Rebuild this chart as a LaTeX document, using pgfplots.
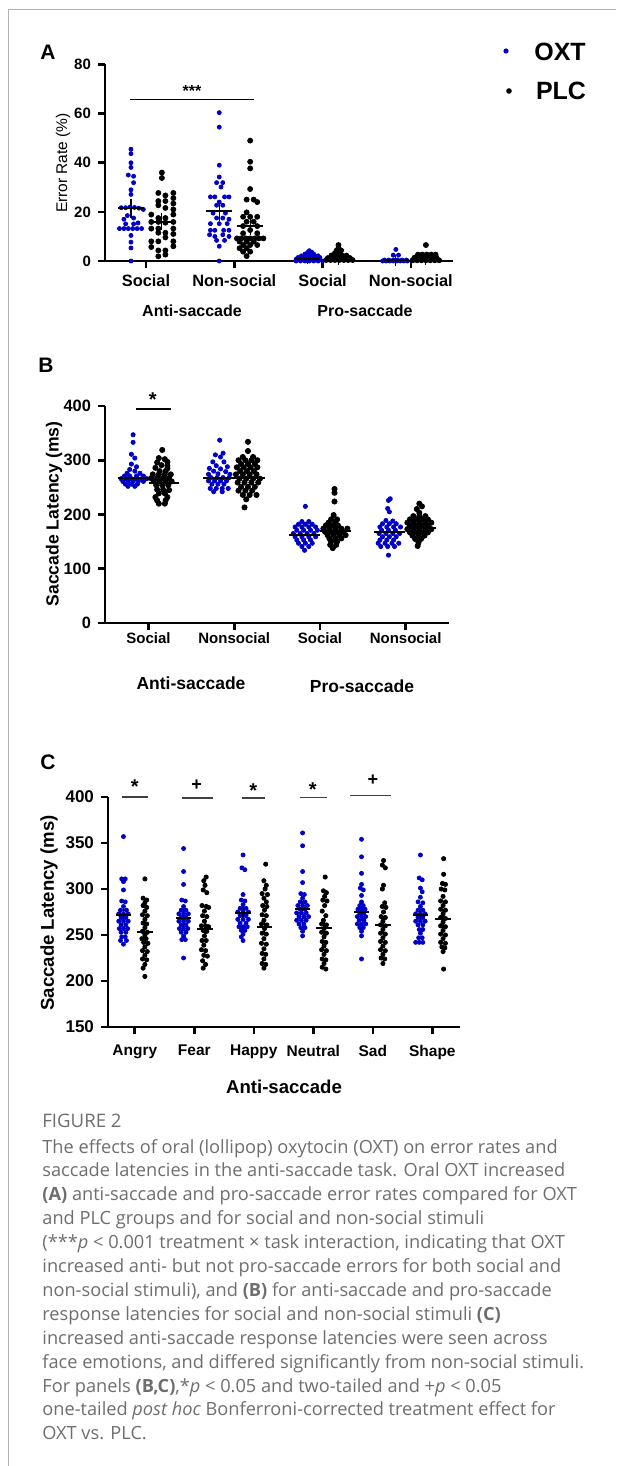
\documentclass[border=0pt]{standalone}
\usepackage{pgfplots}
\pgfplotsset{compat=1.18}
\usepackage{fontspec}
\setmainfont{Liberation Sans}
\newfontfamily\capfont{Open Sans}
\definecolor{oxt}{RGB}{0,0,200}
\definecolor{capgray}{RGB}{110,110,110}
\newcommand{\fs}[1]{\fontsize{#1pt}{#1pt}\selectfont}

\pgfplotsset{
  gp/.style={
    scale only axis, anchor=south west, axis lines=left,
    axis line style={line width=1.3pt,-},
    tick style={line width=1.3pt, black},
    tick align=outside, major tick length=3.5pt,
    clip=false,
    /pgf/number format/assume math mode=true,
  },
  oxtdots/.style={only marks, mark=*, color=oxt, mark options={draw=none, fill=oxt}},
  plcdots/.style={only marks, mark=*, color=black, mark options={draw=none, fill=black}},
  means/.style={black, only marks, mark=-, mark options={line width=1pt}},
}

\begin{document}
\begin{tikzpicture}
\begin{scope}[x=0.5pt,y=-0.5pt]
  \path[use as bounding box] (0,0) rectangle (616,1466);
  \draw[black!30, line width=0.5pt] (8,10) -- (616,10);
  \draw[black!30, line width=0.5pt] (8,10) -- (8,1466);
  % panel letters
  \node[font=\bfseries\fs{10.5}] at (48,52) {A};
  \node[font=\bfseries\fs{10.5}] at (46,365) {B};
  \node[font=\bfseries\fs{10.5}] at (48,762) {C};
  % legend
  \fill[oxt] (506,51) circle (2.6);
  \node[font=\bfseries\fs{12.5}] at (560,52) {OXT};
  \fill[black] (509,91) circle (2.8);
  \node[font=\bfseries\fs{12.5}] at (561,91) {PLC};
  % axis titles
  \node[rotate=90, font=\fs{7.75}] at (63,163) {Error Rate (\%)};
  \node[rotate=90, font=\bfseries\fs{8.8}] at (54,514) {Saccade Latency (ms)};
  \node[rotate=90, font=\bfseries\fs{9.3}] at (49,913) {Saccade Latency (ms)};
  \node[font=\bfseries\fs{8}] at (192,311) {Anti-saccade};
  \node[font=\bfseries\fs{8}] at (365,311) {Pro-saccade};
  \node[font=\bfseries\fs{8.75}] at (191,683) {Anti-saccade};
  \node[font=\bfseries\fs{8.75}] at (362,686) {Pro-saccade};
  \node[font=\bfseries\fs{9.3}] at (284,1087) {Anti-saccade};
  % caption
  \begin{scope}[every node/.style={anchor=base west, inner sep=0pt, text=capgray, font=\capfont\fs{9.1}}]
  \node[font=\capfont\fs{9.3}] at (42,1127.5) {FIGURE 2};
  \node at (42,1153) {The effects of oral (lollipop) oxytocin (OXT) on error rates and};
  \node at (42,1176.9) {saccade latencies in the anti-saccade task. Oral OXT increased};
  \node at (42,1200.8) {\textbf{(A)} anti-saccade and pro-saccade error rates compared for OXT};
  \node at (42,1224.7) {and PLC groups and for social and non-social stimuli};
  \node at (42,1248.6) {(***\textit{p} < 0.001 treatment × task interaction, indicating that OXT};
  \node at (42,1272.5) {increased anti- but not pro-saccade errors for both social and};
  \node at (42,1296.4) {non-social stimuli), and \textbf{(B)} for anti-saccade and pro-saccade};
  \node at (42,1320.3) {response latencies for social and non-social stimuli \textbf{(C)}};
  \node at (42,1344.2) {increased anti-saccade response latencies were seen across};
  \node at (42,1368.1) {face emotions, and differed significantly from non-social stimuli.};
  \node at (42,1392) {For panels \textbf{(B,C)},*\textit{p} < 0.05 and two-tailed and +\textit{p} < 0.05};
  \node at (42,1415.9) {one-tailed \textit{post hoc} Bonferroni-corrected treatment effect for};
  \node at (42,1439.8) {OXT vs. PLC.};
  \end{scope}
\end{scope}

% ---------------- panel A
\begin{axis}[gp, at={(52.5pt,-130.5pt)}, width=174pt, height=98.25pt,
  xmin=-0.464, xmax=3.477, ymin=0, ymax=80,
  xtick={0,1,2,3}, xticklabels={Social,Non-social,Social,Non-social},
  ytick={0,20,40,60,80},
  xticklabel style={font=\bfseries\fs{8.2}},
  yticklabel style={font=\bfseries\fs{7.5}},
]
\addplot[oxtdots, mark size=1.0pt] coordinates {
 (-0.17,45.5) (-0.17,43.7) (-0.17,40.0) (-0.17,38.1) (-0.20,35.0) (-0.14,34.5) (-0.14,31.9) (-0.17,29.0) (-0.17,27.1)
 (-0.28,21.7) (-0.23,21.7) (-0.18,22.0) (-0.13,21.8) (-0.08,21.5) (-0.03,21.0) (-0.21,18.5) (-0.25,17.0) (-0.14,17.5)
 (-0.23,15.1) (-0.14,15.1) (-0.09,15.5) (-0.30,13.2) (-0.25,13.2) (-0.20,13.2) (-0.15,13.2) (-0.10,13.2) (-0.05,13.2)
 (-0.17,10.4) (-0.17,7.7) (-0.17,5.3) (-0.17,0)
 (0.83,60.4) (0.83,54.5) (0.83,39.0) (0.83,34.2) (0.80,31.9) (0.87,31.9) (0.85,30.1) (0.73,26.1) (0.78,26.1) (0.89,26.1)
 (0.94,26.1) (0.83,24.0) (0.80,22.7) (0.87,22.7) (0.76,19.5) (0.90,19.5) (0.80,17.5) (0.87,17.5) (0.94,17.0) (0.73,15.2)
 (0.83,15.2) (0.92,15.2) (0.73,12.5) (0.78,12.5) (0.88,12.5) (0.94,12.5) (0.72,10.7) (0.78,10.0) (0.87,10.7) (0.94,10.0)
 (0.80,8.4) (0.89,8.4) (0.83,6.0) (0.83,0)
 (1.85,4.2) (1.83,3.5) (1.88,3.5) (1.80,2.8) (1.85,2.8) (1.90,2.8) (1.76,2.1) (1.81,2.1) (1.86,2.1) (1.91,2.1) (1.95,2.1)
 (1.72,1.4) (1.77,1.4) (1.82,1.4) (1.87,1.4) (1.92,1.4) (1.97,1.4) (1.70,0.7) (1.74,0.7) (1.78,0.7) (1.83,0.7) (1.88,0.7)
 (1.93,0.7) (1.97,0.7) (1.70,0) (1.75,0) (1.80,0) (1.85,0) (1.90,0) (1.95,0) (2.00,0)
 (2.83,4.7) (2.80,2.4) (2.86,2.4) (2.68,0) (2.72,0) (2.76,0) (2.80,0) (2.84,0) (2.88,0) (2.92,0) (2.96,0)
 (2.70,0.4) (2.75,0.4) (2.80,0.4) (2.85,0.4) (2.90,0.4) (2.95,0.4)
};
\addplot[plcdots, mark size=1.25pt] coordinates {
 (0.18,36.0) (0.18,33.8) (0.14,27.7) (0.31,27.7) (0.22,26.7) (0.31,25.6) (0.14,24.4) (0.22,24.4) (0.31,23.4) (0.14,22.7)
 (0.22,21.6) (0.31,21.0) (0.06,18.9) (0.31,18.9) (0.14,17.5) (0.22,17.5) (0.22,15.6) (0.06,15.9) (0.14,15.9) (0.31,15.9)
 (0.06,13.2) (0.14,13.2) (0.31,13.2) (0.14,11.5) (0.22,11.5) (0.31,11.0) (0.22,9.6) (0.06,8.0) (0.14,8.0) (0.31,8.0)
 (0.31,6.0) (0.06,5.7) (0.14,4.3) (0.22,4.3) (0.22,2.6) (0.14,1.9)
 (1.18,49.0) (1.18,40.4) (1.18,37.7) (1.18,29.3) (1.14,25.0) (1.22,25.0) (1.26,24.0) (1.14,19.8) (1.10,18.0) (1.18,18.0)
 (1.26,18.0) (1.14,16.0) (1.22,16.0) (1.10,14.2) (1.26,14.2) (1.18,12.6) (1.10,11.3) (1.26,11.3) (1.03,9.2) (1.08,9.2)
 (1.13,9.2) (1.18,9.2) (1.23,9.2) (1.28,9.2) (1.33,9.2) (1.06,7.9) (1.14,7.9) (1.22,7.9) (1.10,6.5) (1.18,6.5) (1.26,6.5)
 (1.06,5.2) (1.14,5.2) (1.10,3.8) (1.18,3.8) (1.14,2.0)
 (2.18,6.5) (2.18,5.2) (2.16,4.3) (2.21,4.3) (2.14,3.2) (2.20,3.2) (2.10,2.2) (2.16,2.2) (2.22,2.2) (2.27,2.2)
 (2.06,1.2) (2.11,1.2) (2.16,1.2) (2.21,1.2) (2.26,1.2) (2.31,1.2) (2.04,0.4) (2.09,0.4) (2.14,0.4) (2.19,0.4)
 (2.24,0.4) (2.29,0.4) (2.34,0.4)
 (3.17,6.5) (3.08,2.6) (3.13,2.6) (3.18,2.6) (3.23,2.6) (3.28,2.6) (3.04,1.3) (3.09,1.3) (3.14,1.3) (3.19,1.3)
 (3.24,1.3) (3.29,1.3) (3.02,0.3) (3.07,0.3) (3.12,0.3) (3.17,0.3) (3.22,0.3) (3.27,0.3) (3.32,0.3)
};
\addplot[means, mark size=6.4pt, error bars/.cd, y dir=both, y explicit,
  error mark options={mark size=2.5pt, line width=0.6pt}, error bar style={line width=0.6pt}]
 coordinates {(-0.17,21.4) +- (0,2.0) (0.18,16.0) +- (0,1.5) (0.83,20.4) +- (0,2.2) (1.18,14.4) +- (0,1.8)
  (1.83,1.0) +- (0,0.3) (2.18,0.9) +- (0,0.3) (2.83,0.4) +- (0,0.2) (3.17,0.9) +- (0,0.3)};
\draw[line width=0.5pt] (axis cs:-0.18,65.7) -- (axis cs:1.22,65.7);
\node[anchor=base, font=\bfseries\fs{8}, inner sep=0pt] at (axis cs:0.52,67.0) {***};
\end{axis}

% ---------------- panel B
\begin{axis}[gp, at={(52.5pt,-311.5pt)}, width=172pt, height=108.5pt,
  xmin=-0.508, xmax=3.506, ymin=0, ymax=400,
  xtick={0,1,2,3}, xticklabels={Social,Nonsocial,Social,Nonsocial},
  ytick={0,100,200,300,400},
  xticklabel style={font=\bfseries\fs{7.5}, yshift=2pt},
  yticklabel style={font=\bfseries\fs{8.2}},
]
\addplot[oxtdots, mark size=1.05pt] coordinates {
 (-0.18,347) (-0.18,333) (-0.20,311) (-0.16,304) (-0.20,293) (-0.14,288) (-0.22,283) (-0.16,280) (-0.25,276) (-0.10,276)
 (-0.28,271) (-0.22,271) (-0.14,271) (-0.06,271) (-0.32,266) (-0.26,266) (-0.20,266) (-0.14,266) (-0.08,266) (-0.02,266)
 (-0.30,261) (-0.24,261) (-0.18,261) (-0.12,261) (-0.06,261) (-0.27,256) (-0.20,256) (-0.13,256) (-0.24,252) (-0.16,252)
 (0.83,337) (0.87,313) (0.78,310) (0.84,306) (0.75,297) (0.88,297) (0.79,290) (0.92,288) (0.71,285) (0.84,284)
 (0.76,280) (0.90,279) (0.70,274) (0.81,275) (0.95,274) (0.73,268) (0.80,268) (0.87,268) (0.94,268) (0.70,262)
 (0.77,262) (0.84,262) (0.91,262) (0.74,256) (0.81,256) (0.88,256) (0.72,248) (0.79,248) (0.86,248) (0.93,248)
 (0.76,242) (0.86,242)
 (1.83,215) (1.79,187) (1.87,187) (1.75,182) (1.83,182) (1.91,182) (1.71,177) (1.79,177) (1.87,177) (1.95,177)
 (1.73,171) (1.81,171) (1.89,171) (1.97,171) (1.69,165) (1.77,165) (1.85,165) (1.93,165) (1.71,159) (1.79,159)
 (1.87,159) (1.95,159) (1.73,153) (1.81,153) (1.89,153) (1.75,147) (1.83,147) (1.91,147) (1.79,141) (1.87,141) (1.82,134)
 (2.82,229) (2.80,226) (2.79,211) (2.81,205) (2.77,189) (2.85,188) (2.73,183) (2.81,183) (2.89,183) (2.70,177)
 (2.78,177) (2.86,177) (2.94,177) (2.72,171) (2.80,171) (2.88,171) (2.69,165) (2.77,165) (2.85,165) (2.93,165)
 (2.73,159) (2.81,159) (2.89,159) (2.70,153) (2.78,153) (2.86,153) (2.68,147) (2.76,147) (2.84,147) (2.92,147)
 (2.71,141) (2.79,141) (2.87,141) (2.80,125)
};
\addplot[plcdots, mark size=1.3pt] coordinates {
 (0.16,319) (0.12,304) (0.19,302) (0.22,297) (0.10,296) (0.15,291) (0.22,290) (0.08,286) (0.22,285) (0.13,280)
 (0.20,280) (0.05,274) (0.12,274) (0.19,274) (0.26,274) (0.03,267) (0.10,267) (0.17,267) (0.24,267) (0.06,261)
 (0.13,261) (0.20,261) (0.27,261) (0.09,254) (0.16,254) (0.23,254) (0.10,246) (0.17,246) (0.24,245) (0.12,239)
 (0.19,239) (0.08,232) (0.22,232) (0.10,226) (0.20,226) (0.12,220) (0.19,220)
 (1.16,334) (1.16,317) (1.10,306) (1.22,306) (1.05,300) (1.13,300) (1.20,300) (1.27,300) (1.08,293) (1.16,293)
 (1.24,293) (1.03,287) (1.11,287) (1.19,287) (1.27,287) (1.07,280) (1.15,280) (1.23,280) (1.02,274) (1.10,274)
 (1.18,274) (1.26,274) (1.06,266) (1.14,266) (1.22,266) (1.30,266) (1.04,259) (1.12,259) (1.20,259) (1.28,259)
 (1.08,251) (1.16,251) (1.24,251) (1.05,244) (1.13,244) (1.21,244) (1.10,236) (1.18,236) (1.26,236) (1.14,228) (1.12,213)
 (2.17,247) (2.17,240) (2.17,224) (2.16,199) (2.13,191) (2.20,191) (2.10,185) (2.18,185) (2.07,180) (2.14,180)
 (2.21,180) (2.04,174) (2.11,174) (2.18,174) (2.25,174) (2.32,174) (2.06,168) (2.13,168) (2.20,168) (2.27,168)
 (2.09,162) (2.16,162) (2.23,162) (2.30,162) (2.11,156) (2.18,156) (2.25,156) (2.13,150) (2.20,150) (2.12,144)
 (2.19,144) (2.15,138)
 (3.16,220) (3.19,215) (3.13,210) (3.16,203) (3.09,197) (3.16,197) (3.23,197) (3.05,191) (3.12,191) (3.19,191)
 (3.26,191) (3.02,185) (3.09,185) (3.16,185) (3.23,185) (3.30,185) (3.05,179) (3.12,179) (3.19,179) (3.26,179)
 (3.02,173) (3.09,173) (3.16,173) (3.23,173) (3.30,173) (3.05,167) (3.12,167) (3.19,167) (3.26,167) (3.08,161)
 (3.15,161) (3.22,161) (3.11,155) (3.18,155) (3.15,148) (3.14,142)
};
\addplot[means, mark size=7.7pt] coordinates {(-0.18,267) (0.18,257.5) (0.82,267) (1.18,268)
  (1.82,163) (2.18,169.6) (2.81,167) (3.18,174.5)};
\draw[line width=1.2pt] (axis cs:-0.15,394.5) -- (axis cs:0.26,394.5);
\node[anchor=base, font=\bfseries\fs{10}, inner sep=0pt] at (axis cs:0.05,400) {*};
\end{axis}

% ---------------- panel C
\begin{axis}[gp, at={(54pt,-513.5pt)}, width=175.85pt, height=115pt,
  xmin=-0.45, xmax=5.46, ymin=150, ymax=400,
  xtick={0,1,2,3,4,5}, xticklabels={Angry,Fear,Happy,Neutral,Sad,Shape},
  ytick={150,200,250,300,350,400},
  xticklabel style={font=\bfseries\fs{7.75}, yshift=-2pt},
  yticklabel style={font=\bfseries\fs{8.5}},
]
\addplot[oxtdots, mark size=1.0pt] coordinates {
 (-0.19,357) (-0.22,311) (-0.16,311) (-0.19,308) (-0.19,299) (-0.22,287) (-0.16,286) (-0.19,281) (-0.24,277) (-0.14,277)
 (-0.27,273) (-0.19,273) (-0.11,273) (-0.23,269) (-0.15,269) (-0.27,265) (-0.19,265) (-0.11,265) (-0.23,261) (-0.15,261)
 (-0.26,257) (-0.19,257) (-0.12,257) (-0.23,253) (-0.15,253) (-0.22,248) (-0.16,248) (-0.24,244) (-0.14,244) (-0.19,240)
 (0.82,344) (0.82,319) (0.82,305) (0.79,288) (0.85,287) (0.82,281) (0.78,277) (0.86,277) (0.74,273) (0.82,273)
 (0.90,273) (0.78,269) (0.86,269) (0.74,265) (0.82,265) (0.90,265) (0.78,261) (0.86,261) (0.75,257) (0.82,257)
 (0.89,257) (0.78,253) (0.86,253) (0.82,249) (0.79,245) (0.85,245) (0.82,225)
 (1.82,337) (1.80,323) (1.85,321) (1.82,294) (1.79,288) (1.85,287) (1.82,283) (1.77,279) (1.87,279) (1.73,275)
 (1.82,275) (1.91,275) (1.77,271) (1.87,271) (1.73,267) (1.82,267) (1.91,267) (1.77,263) (1.87,263) (1.75,259)
 (1.82,259) (1.89,259) (1.79,255) (1.85,255) (1.82,251) (1.79,248) (1.82,244)
 (2.82,361) (2.82,347) (2.82,319) (2.82,307) (2.79,295) (2.85,294) (2.82,290) (2.78,286) (2.86,286) (2.74,282)
 (2.82,282) (2.90,282) (2.78,278) (2.86,278) (2.72,274) (2.80,274) (2.88,274) (2.76,270) (2.84,270) (2.92,270)
 (2.72,266) (2.80,266) (2.88,266) (2.76,262) (2.84,262) (2.79,258) (2.86,258) (2.82,254) (2.82,249)
 (3.81,354) (3.81,335) (3.81,317) (3.81,305) (3.79,301) (3.84,299) (3.81,293) (3.81,286) (3.78,282) (3.84,282)
 (3.75,278) (3.81,278) (3.87,278) (3.78,274) (3.85,274) (3.74,270) (3.81,270) (3.88,270) (3.77,266) (3.85,266)
 (3.74,262) (3.81,262) (3.88,262) (3.78,258) (3.84,258) (3.81,254) (3.81,249) (3.81,224)
 (4.80,337) (4.78,312) (4.83,310) (4.80,301) (4.83,297) (4.80,291) (4.76,286) (4.84,285) (4.80,281) (4.76,277)
 (4.84,277) (4.72,273) (4.80,273) (4.88,273) (4.76,269) (4.84,269) (4.72,265) (4.80,265) (4.88,265) (4.76,261)
 (4.84,261) (4.78,256) (4.84,256) (4.80,252) (4.77,247) (4.83,247) (4.72,242) (4.78,242) (4.84,242)
};
\addplot[plcdots, mark size=1.05pt] coordinates {
 (0.17,311) (0.14,290) (0.20,288) (0.17,285) (0.14,282) (0.20,280) (0.17,276) (0.13,272) (0.21,271) (0.17,267)
 (0.14,263) (0.20,262) (0.17,258) (0.13,254) (0.21,253) (0.17,250) (0.12,246) (0.19,246) (0.15,242) (0.22,241)
 (0.17,237) (0.13,233) (0.21,232) (0.17,228) (0.13,224) (0.20,223) (0.17,218) (0.14,214) (0.17,205)
 (1.20,313) (1.16,309) (1.18,304) (1.15,299) (1.21,296) (1.13,282) (1.20,281) (1.24,280) (1.17,276) (1.14,271)
 (1.21,270) (1.17,265) (1.12,260) (1.19,260) (1.24,259) (1.15,255) (1.21,254) (1.17,249) (1.13,244) (1.20,244)
 (1.16,239) (1.12,234) (1.19,233) (1.16,228) (1.22,227) (1.14,222) (1.19,218) (1.15,214)
 (2.20,327) (2.17,309) (2.21,304) (2.19,300) (2.14,295) (2.23,294) (2.17,290) (2.21,286) (2.15,282) (2.22,281)
 (2.18,277) (2.14,272) (2.21,271) (2.17,266) (2.13,262) (2.22,261) (2.18,257) (2.14,252) (2.21,251) (2.17,246)
 (2.13,241) (2.21,240) (2.17,235) (2.14,230) (2.20,229) (2.17,224) (2.14,219) (2.20,218) (2.17,214)
 (3.20,313) (3.17,298) (3.22,296) (3.19,292) (3.16,288) (3.23,287) (3.19,282) (3.15,276) (3.21,271) (3.17,266)
 (3.14,262) (3.22,261) (3.18,257) (3.14,253) (3.22,252) (3.18,248) (3.15,243) (3.21,242) (3.18,238) (3.14,234)
 (3.22,233) (3.18,229) (3.15,224) (3.21,223) (3.18,219) (3.15,215) (3.21,213)
 (4.18,331) (4.16,326) (4.21,323) (4.18,304) (4.16,300) (4.20,285) (4.16,281) (4.22,280) (4.18,275) (4.14,270)
 (4.21,269) (4.17,265) (4.13,261) (4.21,260) (4.17,256) (4.13,252) (4.21,251) (4.17,247) (4.13,243) (4.21,242)
 (4.17,238) (4.13,234) (4.21,233) (4.17,229) (4.14,225) (4.20,224) (4.17,219)
 (5.19,333) (5.19,316) (5.17,306) (5.22,305) (5.15,300) (5.21,299) (5.18,292) (5.14,287) (5.22,286) (5.18,282)
 (5.14,278) (5.22,277) (5.18,273) (5.14,269) (5.22,268) (5.18,264) (5.14,260) (5.22,259) (5.18,255) (5.14,251)
 (5.22,250) (5.18,246) (5.14,242) (5.22,241) (5.16,237) (5.21,236) (5.18,232) (5.19,213)
};
\addplot[means, mark size=3.9pt, error bars/.cd, y dir=both, y explicit,
  error mark options={mark size=2pt, line width=0.6pt}, error bar style={line width=0.6pt}]
 coordinates {(-0.19,272) +- (0,4.5) (0.17,253) +- (0,4.5) (0.82,269) +- (0,4.5) (1.18,257) +- (0,4.5)
  (1.82,274) +- (0,4) (2.18,259) +- (0,4.5) (2.82,278) +- (0,4.5) (3.18,258) +- (0,4.5)
  (3.81,275) +- (0,5) (4.17,261) +- (0,5) (4.80,272) +- (0,4.5) (5.18,267) +- (0,5)};
\begin{scope}[line width=0.8pt, black!75]
\draw (axis cs:-0.215,400) -- (axis cs:0.23,400);
\draw (axis cs:0.795,399) -- (axis cs:1.31,399);
\draw (axis cs:1.80,399) -- (axis cs:2.195,399);
\draw (axis cs:2.77,399.5) -- (axis cs:3.23,399.5);
\draw (axis cs:3.62,401.5) -- (axis cs:4.31,401.5);
\end{scope}
\node[anchor=base, font=\bfseries\fs{10}, inner sep=0pt] at (axis cs:0.0,403.3) {*};
\node[anchor=base, font=\bfseries\fs{9}, inner sep=0pt] at (axis cs:1.04,407.6) {+};
\node[anchor=base, font=\bfseries\fs{10}, inner sep=0pt] at (axis cs:1.99,400) {*};
\node[anchor=base, font=\bfseries\fs{10}, inner sep=0pt] at (axis cs:2.99,401) {*};
\node[anchor=base, font=\bfseries\fs{9}, inner sep=0pt] at (axis cs:4.0,412) {+};
\end{axis}
\end{tikzpicture}
\end{document}
